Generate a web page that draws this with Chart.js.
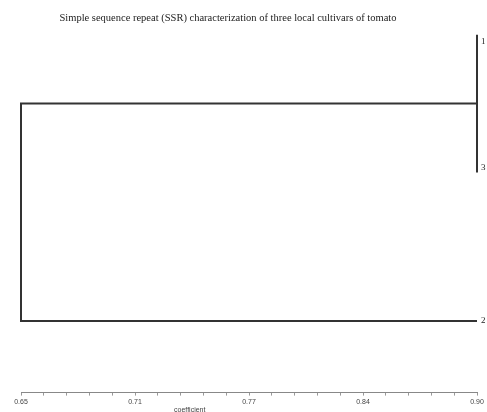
<!DOCTYPE html>
<html>
<head>
<meta charset="utf-8">
<script src="https://cdn.jsdelivr.net/npm/chart.js@4"></script>
<style>
  html, body { margin: 0; padding: 0; background: #fff; }
  #wrap { width: 487px; height: 412px; }
</style>
</head>
<body>
<div id="wrap"><canvas id="dendro" width="487" height="412"></canvas></div>
<script>
const chartTitle = "Simple sequence repeat (SSR) characterization of three local cultivars of tomato";
const axisTitle = "coefficient";

// leaves top to bottom, and where they sit on the (hidden) vertical axis
const leafLabels = ["1", "3", "2"];
const leafPos = [0, 1, 2.08];

// similarity where clusters join: 1+3 first, then (1,3)+2
const mergeCoef = [0.90, 0.65];

const axisMin = 0.65;
const axisMax = 0.90;
const minorStep = 0.0125;
const tickLabels = ["0.65", "0.71", "0.77", "0.84", "0.90"];

// build the dendrogram branches from the merges
let mid13 = (leafPos[0] + leafPos[1]) / 2;
let branchA = [
    { x: mergeCoef[0], y: leafPos[0] },
    { x: mergeCoef[0], y: leafPos[1] }
];
let branchB = [
    { x: mergeCoef[0], y: mid13 },
    { x: mergeCoef[1], y: mid13 },
    { x: mergeCoef[1], y: leafPos[2] },
    { x: axisMax, y: leafPos[2] }
];

const lineStyle = {
    showLine: true,
    borderColor: "#333",
    borderWidth: 2,
    pointRadius: 0,
    fill: false,
    tension: 0,
    clip: false
};

const textPlugin = {
    id: "dendroText",
    afterDraw(chart) {
        const c = chart.ctx;
        const xs = chart.scales.x;
        const ys = chart.scales.y;
        c.save();
        c.fillStyle = "#222";
        c.font = "10.5px 'Liberation Serif'";
        c.textAlign = "center";
        c.textBaseline = "middle";
        c.fillText(chartTitle, 228, 18);

        c.font = "9px 'Liberation Serif'";
        c.textAlign = "left";
        let baselines = ["top", "bottom", "middle"];
        leafLabels.forEach((lab, i) => {
            c.textBaseline = baselines[i];
            let y = ys.getPixelForValue(leafPos[i]);
            if (i === 0) y += 2;
            c.fillText(lab, xs.getPixelForValue(axisMax) + 4, y);
        });

        c.font = "7px 'Liberation Sans'";
        c.fillStyle = "#444";
        c.textAlign = "center";
        c.textBaseline = "middle";
        c.fillText(axisTitle, xs.getPixelForValue(0.7425), chart.chartArea.bottom + 17);
        c.restore();
    }
};

new Chart(document.getElementById("dendro"), {
    type: "scatter",
    data: {
        datasets: [
            Object.assign({ data: branchA }, lineStyle),
            Object.assign({ data: branchB }, lineStyle)
        ]
    },
    options: {
        responsive: false,
        animation: false,
        layout: { padding: { left: 21, right: 10, top: 21, bottom: 4 } },
        plugins: {
            legend: { display: false },
            tooltip: { enabled: false },
            title: { display: false }
        },
        scales: {
            x: {
                type: "linear",
                min: axisMin,
                max: axisMax,
                afterBuildTicks: scale => {
                    let ticks = [];
                    let n = Math.round((axisMax - axisMin) / minorStep);
                    for (let i = 0; i <= n; i++) ticks.push({ value: axisMin + i * minorStep });
                    scale.ticks = ticks;
                },
                ticks: {
                    autoSkip: false,
                    maxRotation: 0,
                    padding: 2,
                    color: "#444",
                    font: { family: "'Liberation Sans'", size: 7 },
                    callback: (v, i) => (i % 5 === 0 ? tickLabels[i / 5] : "")
                },
                grid: {
                    drawOnChartArea: false,
                    drawTicks: true,
                    tickLength: 3,
                    color: "#999"
                },
                border: { display: true, color: "#888", width: 1 }
            },
            y: {
                display: false,
                reverse: true,
                min: -0.1,
                max: 2.6
            }
        }
    },
    plugins: [textPlugin]
});
</script>
</body>
</html>
